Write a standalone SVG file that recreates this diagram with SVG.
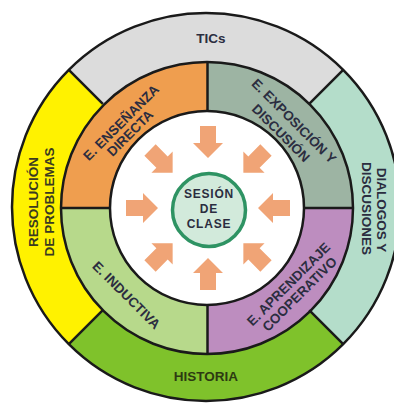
<svg xmlns="http://www.w3.org/2000/svg" xmlns:xlink="http://www.w3.org/1999/xlink" width="394" height="403" viewBox="0 0 394 403">
<defs>
<style>
.lbl{font-family:"Liberation Sans",Arial,sans-serif;font-weight:bold;font-size:13.5px;fill:#2b2d40;text-anchor:middle}
.ctr{font-family:"Liberation Sans",Arial,sans-serif;font-weight:bold;font-size:12px;fill:#2b2d40;text-anchor:middle;letter-spacing:0.8px}
.div{stroke:#1a1a1a;stroke-width:2.5;fill:none}
.arrow{fill:#f0a476}
</style>
<path id="arr" d="M-32,-8 L-15,-8 L-15,-15 L0,0 L-15,15 L-15,8 L-32,8 Z"/>
</defs>
<rect width="394" height="403" fill="#ffffff"/>

<g id="outer-ring">
<g id="tics"><path d="M206,207 L68.8,69.8 A194,194 0 0 1 343.2,69.8 Z" fill="#dcdcdc"/><text class="lbl" x="211" y="43">TICs</text></g>
<g id="dialogos"><path d="M206,207 L343.2,69.8 A194,194 0 0 1 343.2,344.2 Z" fill="#b4ddca"/>
<text class="lbl" transform="rotate(90,377,210)" x="377" y="210">DIALOGOS Y</text>
<text class="lbl" transform="rotate(90,362,208.5)" x="362" y="208.5">DISCUSIONES</text></g>
<g id="historia"><path d="M206,207 L343.2,344.2 A194,194 0 0 1 68.8,344.2 Z" fill="#7fc22b"/><text class="lbl" x="206" y="381" style="fill:#2d3a12">HISTORIA</text></g>
<g id="resolucion"><path d="M206,207 L68.8,344.2 A194,194 0 0 1 68.8,69.8 Z" fill="#fff200"/>
<text class="lbl" transform="rotate(-90,37.5,202)" x="37.5" y="202" style="fill:#3a3a20">RESOLUCIÓN</text>
<text class="lbl" transform="rotate(-90,53.5,202)" x="53.5" y="202" style="fill:#3a3a20">DE PROBLEMAS</text></g>
</g>

<g id="middle-ring">
<g id="ensenanza"><path d="M207,208 L61,208 A146,146 0 0 1 207,62 Z" fill="#ef9e4f"/>
<text class="lbl" transform="rotate(-45,124.4,125.9)" x="124.4" y="125.9">E. ENSEÑANZA</text>
<text class="lbl" transform="rotate(-45,133.4,136.4)" x="133.4" y="136.4">DIRECTA</text></g>
<g id="exposicion"><path d="M207,208 L207,62 A146,146 0 0 1 353,208 Z" fill="#9db4a3"/>
<text class="lbl" transform="rotate(45,290.6,124.4)" x="290.6" y="124.4">E. EXPOSICIÓN Y</text>
<text class="lbl" transform="rotate(45,277.6,136.4)" x="277.6" y="136.4">DISCUSIÓN</text></g>
<g id="aprendizaje"><path d="M207,208 L353,208 A146,146 0 0 1 207,354 Z" fill="#bd8dbf"/>
<text class="lbl" transform="rotate(-45,291.9,287.4)" x="291.9" y="287.4">E. APRENDIZAJE</text>
<text class="lbl" transform="rotate(-45,302.9,297.4)" x="302.9" y="297.4">COOPERATIVO</text></g>
<g id="inductiva"><path d="M207,208 L207,354 A146,146 0 0 1 61,208 Z" fill="#b7d98b"/>
<text class="lbl" transform="rotate(45,123.1,298.4)" x="123.1" y="298.4">E. INDUCTIVA</text></g>
</g>

<g id="connectors">
<circle class="div" cx="206" cy="207" r="194"/>
<line class="div" x1="102.8" y1="103.8" x2="68.8" y2="69.8" stroke-width="2"/>
<line class="div" x1="309.2" y1="103.8" x2="343.2" y2="69.8" stroke-width="2"/>
<line class="div" x1="309.2" y1="310.2" x2="343.2" y2="344.2" stroke-width="2"/>
<line class="div" x1="102.8" y1="310.2" x2="68.8" y2="344.2" stroke-width="2"/>
<circle class="div" cx="207" cy="208" r="146"/>
<line class="div" x1="61" y1="208" x2="110" y2="208"/>
<line class="div" x1="304" y1="208" x2="353" y2="208"/>
<line class="div" x1="207.5" y1="62" x2="207.5" y2="111" stroke-width="3.5"/>
<line class="div" x1="207.5" y1="305" x2="207.5" y2="354" stroke-width="3"/>
</g>

<g id="inner">
<circle cx="207" cy="208" r="97" fill="#ffffff" stroke="#1a1a1a" stroke-width="2.5"/>
<g id="arrows" class="arrow">
<use xlink:href="#arr" transform="translate(208,208) rotate(90) translate(-50,0)"/>
<use xlink:href="#arr" transform="translate(208,208) rotate(135) translate(-50,0)"/>
<use xlink:href="#arr" transform="translate(208,208) rotate(180) translate(-50,0)"/>
<use xlink:href="#arr" transform="translate(208,208) rotate(225) translate(-50,0)"/>
<use xlink:href="#arr" transform="translate(208,208) rotate(270) translate(-50,0)"/>
<use xlink:href="#arr" transform="translate(208,208) rotate(315) translate(-50,0)"/>
<use xlink:href="#arr" transform="translate(208,208) rotate(0) translate(-50,0)"/>
<use xlink:href="#arr" transform="translate(208,208) rotate(45) translate(-50,0)"/>
</g>
</g>

<g id="sesion">
<circle cx="209" cy="210" r="36.5" fill="#d2eadb" stroke="#2e9363" stroke-width="3.5"/>
<text class="ctr" x="209" y="198">SESIÓN</text>
<text class="ctr" x="209" y="213">DE</text>
<text class="ctr" x="209" y="228">CLASE</text>
</g>
</svg>
